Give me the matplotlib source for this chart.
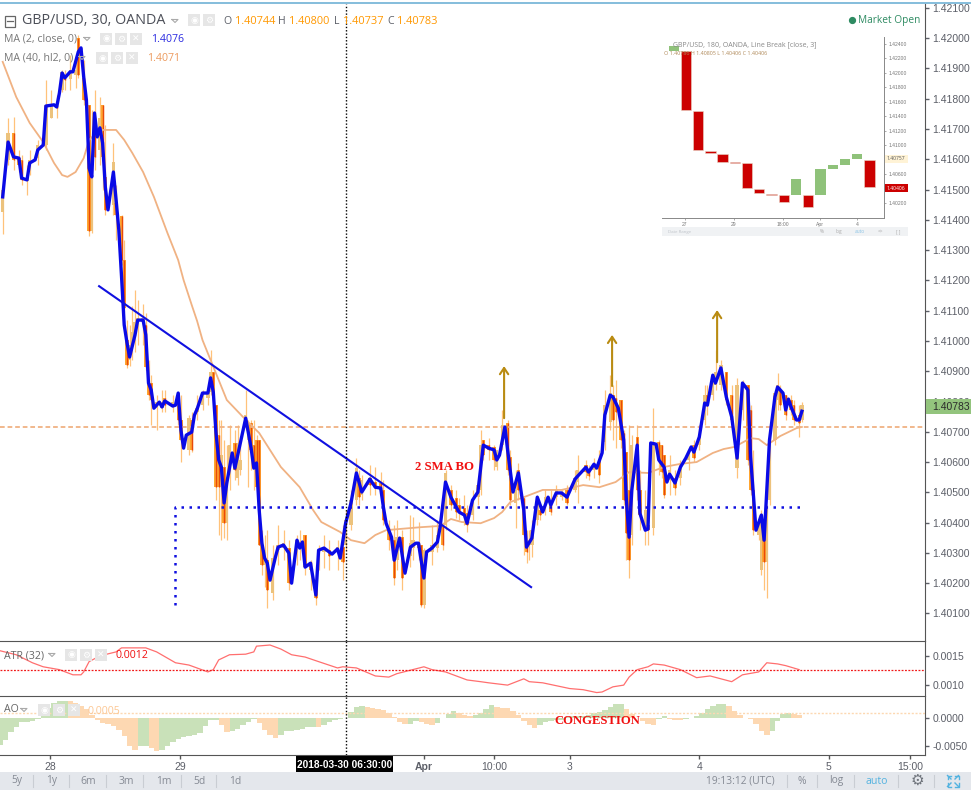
#!/usr/bin/env python3
"""GBP/USD 30 min chart with MA(2), MA(40), ATR and AO panes plus a line break inset."""

import matplotlib
matplotlib.use("Agg")
import matplotlib.pyplot as plt
import numpy as np
from matplotlib.patches import Rectangle

W, H = 971, 790
POINT = 1e-5
BASE = 1.40

# candles, values in points above 1.40000
candle_bar = [1, 3, 5, 7, 8, 10, 11, 14, 17, 19, 21, 23, 24, 26, 28, 29, 31, 33, 34, 35, 37, 38, 39, 42, 43, 45, 46, 47, 48, 49, 50, 51, 53, 54, 55, 56, 58, 60, 61, 64, 66, 67, 70, 71, 73, 75, 77, 78, 79, 80, 81, 82, 83, 84, 85, 87, 88, 89, 91, 92, 93, 94, 95, 96, 97, 98, 99, 101, 103, 105, 107, 110, 111, 113, 115, 117, 118, 120, 122, 125, 127, 128, 130, 132, 133, 134, 137, 139, 141, 142, 144, 146, 147, 149, 152, 153, 155, 156, 157, 160, 162, 164, 165, 167, 169, 170, 172, 173, 175, 177, 178, 179, 181, 183, 184, 186, 188, 189, 191, 192, 194, 195, 196, 197, 199, 200, 202, 204, 206, 208, 210, 213, 214, 217, 218, 220, 222, 224, 226, 227, 228, 230, 231, 232, 233, 234, 236, 237, 239, 240, 242, 244, 245, 246, 248, 250, 252, 255, 257, 259, 261, 262, 264, 265, 267, 269, 271, 273, 275, 277, 278, 279, 281, 282, 283, 284, 285, 287, 288, 289, 291, 293, 294, 296, 297]
candle_high = [1499, 1737, 1740, 1631, 1614, 1581, 1631, 1664, 1862, 1829, 1813, 1895, 1895, 1945, 1928, 2011, 1928, 1780, 1763, 1829, 1806, 1780, 1713, 1654, 1515, 1416, 1334, 1069, 1053, 1115, 1168, 1135, 1122, 1092, 937, 887, 821, 838, 838, 821, 831, 821, 755, 765, 821, 838, 838, 970, 897, 788, 739, 739, 673, 656, 722, 706, 722, 673, 838, 739, 739, 739, 689, 673, 375, 359, 375, 326, 392, 375, 342, 359, 375, 359, 276, 260, 326, 359, 342, 342, 392, 441, 508, 613, 574, 557, 590, 584, 567, 541, 408, 392, 408, 375, 425, 418, 402, 326, 316, 392, 408, 392, 574, 524, 508, 481, 491, 458, 508, 541, 706, 673, 679, 656, 640, 772, 739, 640, 574, 597, 481, 375, 375, 408, 491, 458, 508, 508, 524, 508, 524, 574, 623, 607, 590, 613, 640, 838, 887, 854, 871, 805, 706, 633, 722, 689, 722, 574, 508, 458, 778, 673, 656, 623, 623, 574, 607, 640, 673, 722, 854, 854, 887, 970, 937, 897, 854, 878, 871, 854, 788, 640, 425, 441, 408, 458, 706, 828, 894, 854, 821, 821, 805, 788, 798]
candle_low = [1353, 1581, 1565, 1558, 1515, 1482, 1548, 1581, 1631, 1737, 1737, 1823, 1829, 1829, 1836, 1869, 1780, 1347, 1357, 1565, 1581, 1499, 1416, 1416, 1334, 1251, 1096, 911, 917, 937, 963, 987, 987, 904, 805, 722, 706, 765, 765, 765, 722, 600, 623, 633, 739, 772, 788, 821, 805, 474, 359, 342, 349, 342, 508, 541, 524, 557, 706, 517, 574, 508, 517, 326, 227, 187, 118, 144, 260, 276, 177, 260, 276, 227, 177, 128, 243, 250, 243, 243, 210, 309, 375, 458, 458, 474, 491, 491, 491, 392, 309, 194, 243, 177, 253, 276, 276, 121, 118, 260, 303, 309, 375, 441, 415, 408, 392, 369, 408, 458, 491, 607, 607, 574, 574, 640, 557, 458, 382, 474, 293, 266, 276, 286, 392, 408, 425, 425, 458, 474, 458, 501, 465, 547, 541, 547, 531, 640, 706, 673, 646, 646, 458, 276, 217, 326, 474, 375, 326, 326, 359, 557, 547, 481, 491, 491, 524, 574, 600, 640, 722, 755, 805, 838, 838, 788, 722, 547, 739, 590, 491, 359, 342, 227, 177, 151, 458, 656, 772, 772, 739, 755, 722, 683, 732]
candle_open = [1426, 1598, 1687, 1604, 1598, 1528, 1581, 1604, 1647, 1737, 1780, 1829, 1879, 1865, 1879, 2001, 1869, 1780, 1363, 1737, 1631, 1780, 1542, 1449, 1456, 1413, 1267, 1003, 937, 987, 1030, 1053, 1063, 1053, 861, 861, 778, 778, 811, 782, 828, 739, 640, 739, 765, 788, 811, 831, 897, 788, 689, 517, 584, 398, 557, 663, 547, 574, 722, 673, 729, 656, 673, 673, 326, 260, 276, 167, 309, 316, 316, 316, 316, 359, 270, 210, 276, 303, 309, 303, 319, 326, 392, 474, 547, 491, 547, 534, 531, 508, 382, 342, 276, 352, 289, 316, 332, 326, 128, 303, 316, 392, 392, 508, 481, 458, 448, 431, 425, 484, 508, 673, 656, 650, 584, 656, 729, 617, 465, 574, 481, 326, 326, 326, 408, 441, 458, 458, 484, 484, 508, 508, 534, 590, 574, 574, 607, 666, 732, 821, 811, 805, 696, 633, 508, 359, 683, 508, 375, 392, 382, 666, 656, 623, 541, 547, 547, 607, 656, 656, 739, 821, 821, 854, 854, 897, 821, 580, 772, 854, 772, 508, 359, 243, 375, 270, 474, 673, 805, 838, 821, 805, 788, 755, 739]
candle_close = [1499, 1687, 1598, 1581, 1532, 1538, 1598, 1647, 1780, 1780, 1770, 1889, 1862, 1895, 1895, 1879, 1796, 1363, 1542, 1608, 1737, 1608, 1433, 1591, 1416, 1267, 1109, 921, 987, 1030, 1063, 1076, 1076, 914, 821, 805, 798, 798, 788, 798, 739, 673, 745, 640, 778, 828, 831, 897, 821, 517, 517, 623, 398, 517, 656, 574, 663, 607, 755, 729, 640, 590, 517, 326, 260, 309, 177, 283, 326, 332, 200, 342, 336, 253, 243, 151, 309, 316, 289, 319, 270, 408, 474, 580, 484, 541, 524, 514, 508, 408, 342, 217, 352, 217, 332, 342, 316, 128, 309, 326, 359, 326, 564, 458, 435, 435, 425, 392, 474, 524, 656, 623, 640, 607, 640, 722, 574, 474, 508, 508, 359, 303, 342, 375, 484, 425, 484, 435, 508, 501, 465, 547, 574, 567, 554, 593, 557, 788, 828, 739, 765, 673, 474, 365, 276, 656, 508, 425, 441, 375, 666, 607, 567, 491, 574, 514, 590, 633, 613, 689, 821, 788, 878, 897, 921, 805, 739, 854, 854, 607, 508, 375, 392, 425, 270, 441, 673, 828, 854, 788, 755, 772, 739, 729, 788]

# MA(2, close) vertices
ma2_bar = [1, 3, 5, 7, 8, 10, 11, 13, 14, 16, 17, 20, 21, 22, 23, 24, 26, 27, 29, 30, 31, 32, 33, 34, 35, 36, 37, 38, 39, 40, 42, 43, 44, 45, 46, 47, 48, 50, 51, 53, 54, 55, 56, 57, 59, 60, 61, 64, 65, 66, 67, 68, 69, 71, 72, 73, 75, 77, 78, 79, 80, 81, 82, 83, 84, 86, 87, 91, 93, 94, 95, 96, 97, 98, 99, 100, 102, 103, 105, 107, 108, 110, 111, 112, 113, 115, 117, 118, 120, 123, 125, 126, 128, 130, 132, 134, 137, 139, 141, 142, 143, 145, 146, 148, 150, 152, 154, 155, 157, 158, 160, 162, 163, 165, 167, 170, 172, 173, 175, 177, 179, 181, 183, 184, 185, 187, 188, 190, 192, 194, 195, 197, 199, 201, 203, 204, 206, 208, 210, 213, 214, 217, 218, 220, 221, 223, 224, 226, 227, 229, 231, 232, 233, 234, 236, 237, 239, 240, 241, 243, 244, 246, 247, 248, 250, 252, 254, 256, 257, 259, 261, 262, 264, 265, 267, 269, 271, 273, 275, 277, 278, 280, 282, 283, 285, 287, 288, 290, 291, 292, 293, 295, 296, 297]
ma2_pts = [1476, 1657, 1608, 1604, 1538, 1532, 1588, 1598, 1631, 1647, 1776, 1780, 1773, 1819, 1885, 1869, 1889, 1889, 1955, 1968, 1872, 1796, 1571, 1542, 1753, 1674, 1704, 1654, 1509, 1433, 1558, 1466, 1367, 1215, 1053, 996, 947, 1020, 1069, 1069, 1020, 861, 838, 778, 798, 782, 802, 785, 788, 828, 706, 646, 689, 699, 755, 775, 828, 828, 878, 831, 696, 607, 583, 465, 531, 630, 580, 745, 646, 580, 597, 441, 332, 283, 266, 210, 286, 319, 326, 299, 200, 342, 316, 336, 253, 266, 161, 309, 316, 296, 313, 283, 398, 465, 564, 501, 544, 517, 514, 451, 398, 352, 276, 349, 233, 319, 332, 332, 217, 303, 316, 336, 385, 534, 484, 435, 425, 398, 474, 501, 656, 646, 640, 607, 623, 716, 640, 501, 564, 441, 319, 349, 484, 435, 484, 458, 498, 498, 484, 544, 554, 583, 567, 593, 580, 630, 755, 821, 815, 778, 673, 474, 352, 507, 656, 431, 375, 379, 663, 659, 607, 583, 534, 560, 531, 583, 613, 650, 633, 683, 795, 788, 887, 861, 911, 815, 749, 613, 861, 838, 617, 375, 425, 342, 673, 815, 848, 828, 772, 808, 782, 739, 739, 768]

# MA(40, hl2) vertices
ma40_bar = [1, 6, 11, 16, 20, 23, 25, 28, 31, 33, 36, 38, 43, 46, 49, 53, 57, 62, 66, 68, 71, 73, 75, 78, 84, 90, 96, 104, 111, 116, 119, 126, 130, 135, 139, 143, 148, 156, 163, 167, 171, 178, 183, 186, 189, 194, 201, 208, 216, 222, 228, 233, 240, 246, 252, 258, 264, 268, 272, 278, 281, 284, 289, 295, 297]
ma40_pts = [1922, 1806, 1720, 1657, 1588, 1548, 1542, 1558, 1604, 1664, 1690, 1697, 1697, 1664, 1621, 1558, 1476, 1357, 1267, 1201, 1119, 1066, 1003, 937, 805, 749, 696, 584, 517, 441, 402, 369, 342, 332, 359, 375, 379, 385, 389, 412, 402, 398, 415, 435, 468, 484, 508, 508, 524, 517, 534, 567, 564, 584, 594, 600, 630, 643, 650, 679, 676, 656, 686, 712, 716]

# drawn by hand on the chart
trend_bars = [36.7, 196.7]
trend_pts = [1181, 187]
support_level = 451
support_bars = [64.8, 64.8, 298]
support_pts = [128, 451, 451]
arrow_bars = [186.7, 226.7, 265.6]
arrow_from = [745, 851, 930]
arrow_to = [917, 1020, 1102]
last_ma40 = 716
last_close = 1.40783
cross_bar = 128

# ATR(32)
atr_bar = [0, 6, 12, 16, 22, 27, 30, 31, 33, 37, 43, 45, 54, 58, 65, 70, 77, 79, 81, 85, 91, 94, 95, 100, 104, 108, 113, 118, 125, 127, 132, 139, 144, 147, 157, 160, 165, 173, 178, 181, 188, 194, 196, 201, 211, 216, 221, 223, 227, 231, 233, 236, 240, 242, 246, 252, 258, 263, 271, 275, 281, 284, 288, 291, 296]
atr_val = [159, 152, 138, 131, 126, 117, 117, 122, 140, 150, 157, 164, 164, 157, 138, 134, 122, 126, 143, 152, 153, 157, 167, 169, 162, 152, 148, 140, 129, 131, 129, 115, 113, 119, 131, 126, 122, 108, 105, 103, 99, 110, 105, 103, 93, 91, 86, 87, 96, 99, 113, 126, 131, 136, 134, 126, 112, 115, 105, 117, 122, 138, 136, 133, 126]
atr_level = 0.00126

# AO, one value every second bar
ao_step = 2
ao_val = [-472, -384, -254, -159, -77, -71, -59, -18, 77, 177, 266, 295, 307, 295, 266, 218, 159, 59, -41, -89, -106, -148, -218, -325, -502, -572, -502, -490, -531, -590, -566, -502, -425, -366, -330, -325, -295, -266, -148, -41, -41, -130, -248, -224, -195, -130, -71, -24, -89, -207, -307, -354, -295, -236, -224, -212, -195, -165, -153, -159, -118, -71, -35, -12, 6, 106, 195, 207, 195, 177, 165, 148, 83, 12, -65, -112, -106, -59, -77, -112, -130, -83, 0, 71, 118, 89, 53, 30, 53, 89, 165,
          224, 195, 183, 171, 130, 59, -59, -130, -177, -118, -65, -59, -41, -30, 12, 30, 35, 41, 53, 83, 106, 142, 195, 242, 248, 153, 71, 0, -47, -100, -118, -24, 30, -18, -35, -41, -24, 0, 30, 89, 153, 212, 254, 254, 212, 130, 47, 6, -12, -106, -224, -295, -224, -59, 77, 83, 65, 47]
ao_level = 0.0008

# x axis
day_ticks = [18.5, 66.7, 157, 183, 211, 259, 307, 337]
day_labels = ["28", "29", "Apr", "10:00", "3", "4", "5", "15:00"]
price_ticks = [1.401 + 0.001 * i for i in range(21)]

# line break inset, one block per index
lb_open = [1.42303, 1.42303, 1.41472, 1.40922, 1.40876, 1.40765, 1.40756, 1.40395, 1.40326, 1.40308, 1.40308, 1.40308, 1.40308, 1.40663, 1.40723, 1.40806, 1.40797]
lb_close = [1.42377, 1.41485, 1.40931, 1.40890, 1.40769, 1.40756, 1.40409, 1.40331, 1.40312, 1.40206, 1.40529, 1.40137, 1.40663, 1.40723, 1.40806, 1.40876, 1.40414]
lb_ticks = [1.424, 1.422, 1.42, 1.418, 1.416, 1.414, 1.412, 1.41, 1.406, 1.402]
lb_day_pos = [0.92, 4.93, 8.93, 11.96, 14.98]
lb_day_labels = ["27", "29", "18:00", "Apr", "4"]

GREY = "#5c5f68"
PANE_LINE = "#555555"
ORANGE_MA = "#f0b283"
UI_FONT = ["Open Sans", "DejaVu Sans"]
AXIS_FONT = ["Liberation Sans", "DejaVu Sans"]
AXIS_SIZE = 7.5


def pane(top, bottom):
    """Add an axes that fills the price area between two pixel rows."""
    ax = fig.add_axes([0, 1 - bottom / H, 925 / W, (bottom - top) / H])
    ax.set_xlim(0, 925 / 2.7)
    ax.yaxis.tick_right()
    ax.tick_params(axis="y", length=3, width=1, colors=GREY, pad=2.5, labelsize=AXIS_SIZE)
    ax.tick_params(axis="x", length=0)
    ax.set_xticks([])
    for name in ["left", "top", "bottom"]:
        ax.spines[name].set_visible(False)
    ax.spines["right"].set_color(PANE_LINE)
    ax.patch.set_alpha(0)
    return ax


fig = plt.figure(figsize=(W / 100, H / 100), dpi=100, facecolor="white")

# ---- main pane
ax = pane(4, 641)
ax.set_ylim(1.40009, 1.42113)
ax.set_yticks(price_ticks)
ax.set_yticklabels([f"{t:.5f}" for t in price_ticks], family=AXIS_FONT, fontsize=AXIS_SIZE, color=GREY)

bars = np.array(candle_bar)
o = BASE + np.array(candle_open) * POINT
c = BASE + np.array(candle_close) * POINT
hi = BASE + np.array(candle_high) * POINT
lo = BASE + np.array(candle_low) * POINT
up = c >= o
ax.vlines(bars, lo, hi, color="#ffc27a", lw=0.9, zorder=2)
ax.bar(bars[up], (c - o)[up], bottom=o[up], width=1.2, color="#ecc27c", zorder=3)
ax.bar(bars[~up], (o - c)[~up], bottom=c[~up], width=1.2, color="#ffa530", zorder=3)
ax.vlines(bars[~up], c[~up], o[~up], color="#e8490a", lw=1.0, zorder=3)

ax.plot(ma40_bar, BASE + np.array(ma40_pts) * POINT, color=ORANGE_MA, lw=1.3, zorder=4)
ax.axhline(BASE + last_ma40 * POINT, color=ORANGE_MA, lw=1.3, ls=(0, (2.6, 1.6)), zorder=4)
ax.plot(ma2_bar, BASE + np.array(ma2_pts) * POINT, color="#0a0ae6", lw=2.4, zorder=5,
        solid_joinstyle="round")
ax.plot(trend_bars, BASE + np.array(trend_pts) * POINT, color="#1010e0", lw=1.5, zorder=5)
ax.plot(support_bars, BASE + np.array(support_pts) * POINT, color="#1010e0", lw=1.8,
        ls=(0, (1, 2.2)), zorder=5)
for bx, y0, y1 in zip(arrow_bars, arrow_from, arrow_to):
    ax.annotate("", xy=(bx, BASE + y1 * POINT), xytext=(bx, BASE + y0 * POINT),
                arrowprops=dict(arrowstyle="->,head_length=0.45,head_width=0.3", color="#b98b12",
                                lw=1.5, shrinkA=0, shrinkB=0), zorder=6)
ax.text(153.7, BASE + 584 * POINT, "2 SMA BO", color="#f01010", family="Liberation Serif",
        weight="bold", fontsize=9.2, va="center", zorder=6)
ax.axvline(cross_bar, color="black", lw=1, ls=(0, (1, 1.4)), zorder=6)

# ---- ATR pane
atr = pane(641, 696)
atr.set_ylim(0.00080, 0.00176)
atr.set_yticks([0.0010, 0.0015])
atr.set_yticklabels(["0.0010", "0.0015"], family=AXIS_FONT, fontsize=AXIS_SIZE, color=GREY)
atr.plot(atr_bar, np.array(atr_val) * POINT, color="#ff6f6f", lw=0.9)
atr.axhline(atr_level, color="#f01818", lw=0.9, ls=(0, (1.5, 1.2)))
atr.axvline(cross_bar, color="black", lw=1, ls=(0, (1, 1.4)))
atr.spines["top"].set_visible(True)
atr.spines["top"].set_color(PANE_LINE)

# ---- AO pane
ao = pane(696, 755)
ao.set_ylim(-0.00654, 0.00389)
ao.set_yticks([-0.005, 0.0])
ao.set_yticklabels(["-0.0050", "0.0000"], family=AXIS_FONT, fontsize=AXIS_SIZE, color=GREY)
ao_y = np.array(ao_val) * POINT
ao_x = np.arange(len(ao_y)) * ao_step
rising = np.r_[True, np.diff(ao_y) >= 0]
ao.bar(ao_x[rising], ao_y[rising], width=ao_step, color="#c9e1b9")
ao.bar(ao_x[~rising], ao_y[~rising], width=ao_step, color="#fdd8b2")
ao.axhline(ao_level, color="#fdd8b2", lw=1, ls=(0, (1.5, 1.2)))
ao.axvline(cross_bar, color="black", lw=1, ls=(0, (1, 1.4)))
ao.text(205.5, -0.00058, "CONGESTION", color="#f01010", family="Liberation Serif",
        weight="bold", fontsize=9.1, va="center", zorder=6)
ao.spines["top"].set_visible(True)
ao.spines["top"].set_color(PANE_LINE)
ao.spines["bottom"].set_visible(True)
ao.spines["bottom"].set_color(PANE_LINE)
ao.set_xticks(day_ticks)
ao.set_xticklabels(day_labels, family=AXIS_FONT, fontsize=AXIS_SIZE, color=GREY)
ao.tick_params(axis="x", length=3, width=1, colors=PANE_LINE, pad=2, labelcolor=GREY)
ao.get_xticklabels()[2].set_fontweight("bold")

# ---- line break inset
inset = fig.add_axes([662 / W, 1 - 217.7 / H, (884.3 - 662) / W, (217.7 - 37.3) / H])
inset.set_xlim(-0.957, 17.22)
inset.set_ylim(1.39994, 1.42492)
lb_o = np.array(lb_open)
lb_c = np.array(lb_close)
lb_up = lb_c >= lb_o
lb_x = np.arange(len(lb_o))
inset.bar(lb_x[lb_up], (lb_c - lb_o)[lb_up], bottom=lb_o[lb_up], width=0.84, color="#8fc27a")
inset.bar(lb_x[~lb_up], (lb_o - lb_c)[~lb_up], bottom=lb_c[~lb_up], width=0.84, color="#cc0000",
          edgecolor="#e8d8c8", lw=0.4)
inset.yaxis.tick_right()
inset.set_yticks(lb_ticks)
inset.set_yticklabels([f"{t:.5f}" for t in lb_ticks], family=AXIS_FONT, fontsize=3.6, color="#777777")
inset.set_xticks(lb_day_pos)
inset.set_xticklabels(lb_day_labels, family=AXIS_FONT, fontsize=3.6, color="#777777")
inset.tick_params(length=1.5, width=0.5, color="#888888", pad=1.5)
for name in ["left", "top"]:
    inset.spines[name].set_visible(False)
for name in ["right", "bottom"]:
    inset.spines[name].set_color("#888888")
    inset.spines[name].set_linewidth(0.7)

# ---- everything around the panes, in pixel rows and columns
ui = fig.add_axes([0, 0, 1, 1], zorder=10)
ui.set_xlim(0, W)
ui.set_ylim(H, 0)
ui.axis("off")
ui.patch.set_alpha(0)


def label(x, y, s, color=GREY, size=7.8, fam=UI_FONT, ha="left", **kw):
    ui.text(x, y, s, color=color, fontsize=size, family=fam, ha=ha, va="center", **kw)


def icons(x, y, count=3):
    for i in range(count):
        ui.add_patch(Rectangle((x + i * 15, y - 6), 12, 12, color="#e6e6e6", lw=0))
        label(x + i * 15 + 6, y, "◉⚙✕"[i], color="white", size=6.5, fam=["DejaVu Sans"], ha="center")


def caret(x, y, color="#aaaaaa"):
    ui.plot([x - 3, x + 3, x, x - 3], [y - 1.5, y - 1.5, y + 1.5, y - 1.5], color=color, lw=0.8)


ui.plot([0, W], [3, 3], color="#6fb1d6", lw=1.2)
ui.add_patch(Rectangle((4.5, 15.5), 10, 11, fill=False, ec="#666666", lw=0.9))
ui.plot([6.5, 12.5], [21, 21], color="#666666", lw=0.9)
label(22, 21, "GBP/USD, 30, OANDA", size=10.3, color="#4c4f58")
caret(175, 21)
icons(188, 20, 2)
label(223, 21, "O", size=7.6)
label(235, 21, "1.40744", "#ff9800", size=7.9)
label(278, 21, "H", size=7.6)
label(289, 21, "1.40800", "#ff9800", size=7.9)
label(334, 21, "L", size=7.6)
label(343, 21, "1.40737", "#ff9800", size=7.9)
label(387, 21, "C", size=7.6)
label(397, 21, "1.40783", "#ff9800", size=7.9)
ui.plot([852], [19.5], "o", color="#2e8b62", ms=4.2)
label(858, 20, "Market Open", "#2e8b62", size=7.3)

label(4, 39, "MA (2, close, 0)", size=7.6, color="#777777")
caret(87, 39)
icons(100, 39)
label(151, 39.5, "1.4076", "#2a2ae0", size=7.6)
label(4, 58, "MA (40, hl2, 0)", size=7.6, color="#777777")
caret(82, 58)
icons(96, 58)
label(147, 58.5, "1.4071", "#ec9a5e", size=7.6)

label(4, 656, "ATR (32)", size=7.6, color="#666666")
caret(52, 655)
icons(65, 655)
label(115, 656, "0.0012", "#f01010", size=7.6)
label(4, 710, "AO", size=7.6, color="#666666")
caret(24, 710)
icons(38, 710)
label(88, 711, "0.0005", "#fcc794", size=7.6)

label(673, 44.5, "GBP/USD, 180, OANDA, Line Break [close, 3]", "#888888", size=5)
label(664, 53.5, "O 1.40786 H 1.40805 L 1.40406 C 1.40406", "#b08a5a", size=3.9)
ui.add_patch(Rectangle((662, 227), 246, 9, color="#f0f2f4", lw=0))
label(668, 231.5, "Date Range", "#c0c4ca", size=3.2)
for px, s in zip([822, 839, 860, 880, 898], ["%", "log", "auto", "<>", "[ ]"]):
    label(px, 231.5, s, "#8cc4e6" if s == "auto" else "#aaaaaa", size=3.4, ha="center")
ui.add_patch(Rectangle((884.5, 155), 23, 8, color="#fff3d6", lw=0))
label(887, 159, "1.40757", "#555555", size=3.6)
ui.add_patch(Rectangle((884.5, 184), 23, 7.5, color="#cc0000", lw=0))
label(887, 188, "1.40406", "white", size=3.6)

# last price tag
ui.add_patch(Rectangle((925.5, 399), 46, 15, color="#93c47d", lw=0))
label(932, 407, f"{last_close:.5f}", "#2b2b2b", fam=AXIS_FONT, size=AXIS_SIZE)

# crosshair date tag
ui.add_patch(Rectangle((296, 756), 97, 17, color="black", lw=0))
label(344.5, 765, "2018-03-30 06:30:00", "white", fam=AXIS_FONT, size=7.3, ha="center", weight="bold")

# bottom toolbar
ui.add_patch(Rectangle((0, 772), W, 18, color="#e4e7ec", lw=0))
for px, s in zip([17, 52, 88, 126, 164, 200, 235], ["5y", "1y", "6m", "3m", "1m", "5d", "1d"]):
    label(px, 781, s, "#858a94", size=7.4, ha="center")
for px in [33, 69, 106, 143, 181, 216, 787, 817, 854, 898, 934]:
    ui.plot([px, px], [775, 787], color="#c9cdd3", lw=0.8)
label(706, 781, "19:13:12 (UTC)", "#858a94", size=7.4)
label(802, 781, "%", "#858a94", size=7.4, ha="center")
label(836, 781, "log", "#858a94", size=7.4, ha="center")
label(877, 781, "auto", "#54b3e0", size=7.6, ha="center")
label(917, 780.5, "⚙", "#6f747c", size=11, fam=["DejaVu Sans"], ha="center")
# expand icon: four small arrows pointing to the corners
for sx, sy in [(-1, -1), (1, -1), (-1, 1), (1, 1)]:
    cx, cy = 953 + sx * 5.5, 781 + sy * 5.5
    ui.plot([cx - sx * 3.5, cx, cx], [cy, cy, cy - sy * 3.5], color="#54b3e0", lw=1.0)
    ui.plot([cx, cx - sx * 3.5], [cy, cy - sy * 3.5], color="#54b3e0", lw=1.0)

fig.savefig("out.png", dpi=100, facecolor="white")
